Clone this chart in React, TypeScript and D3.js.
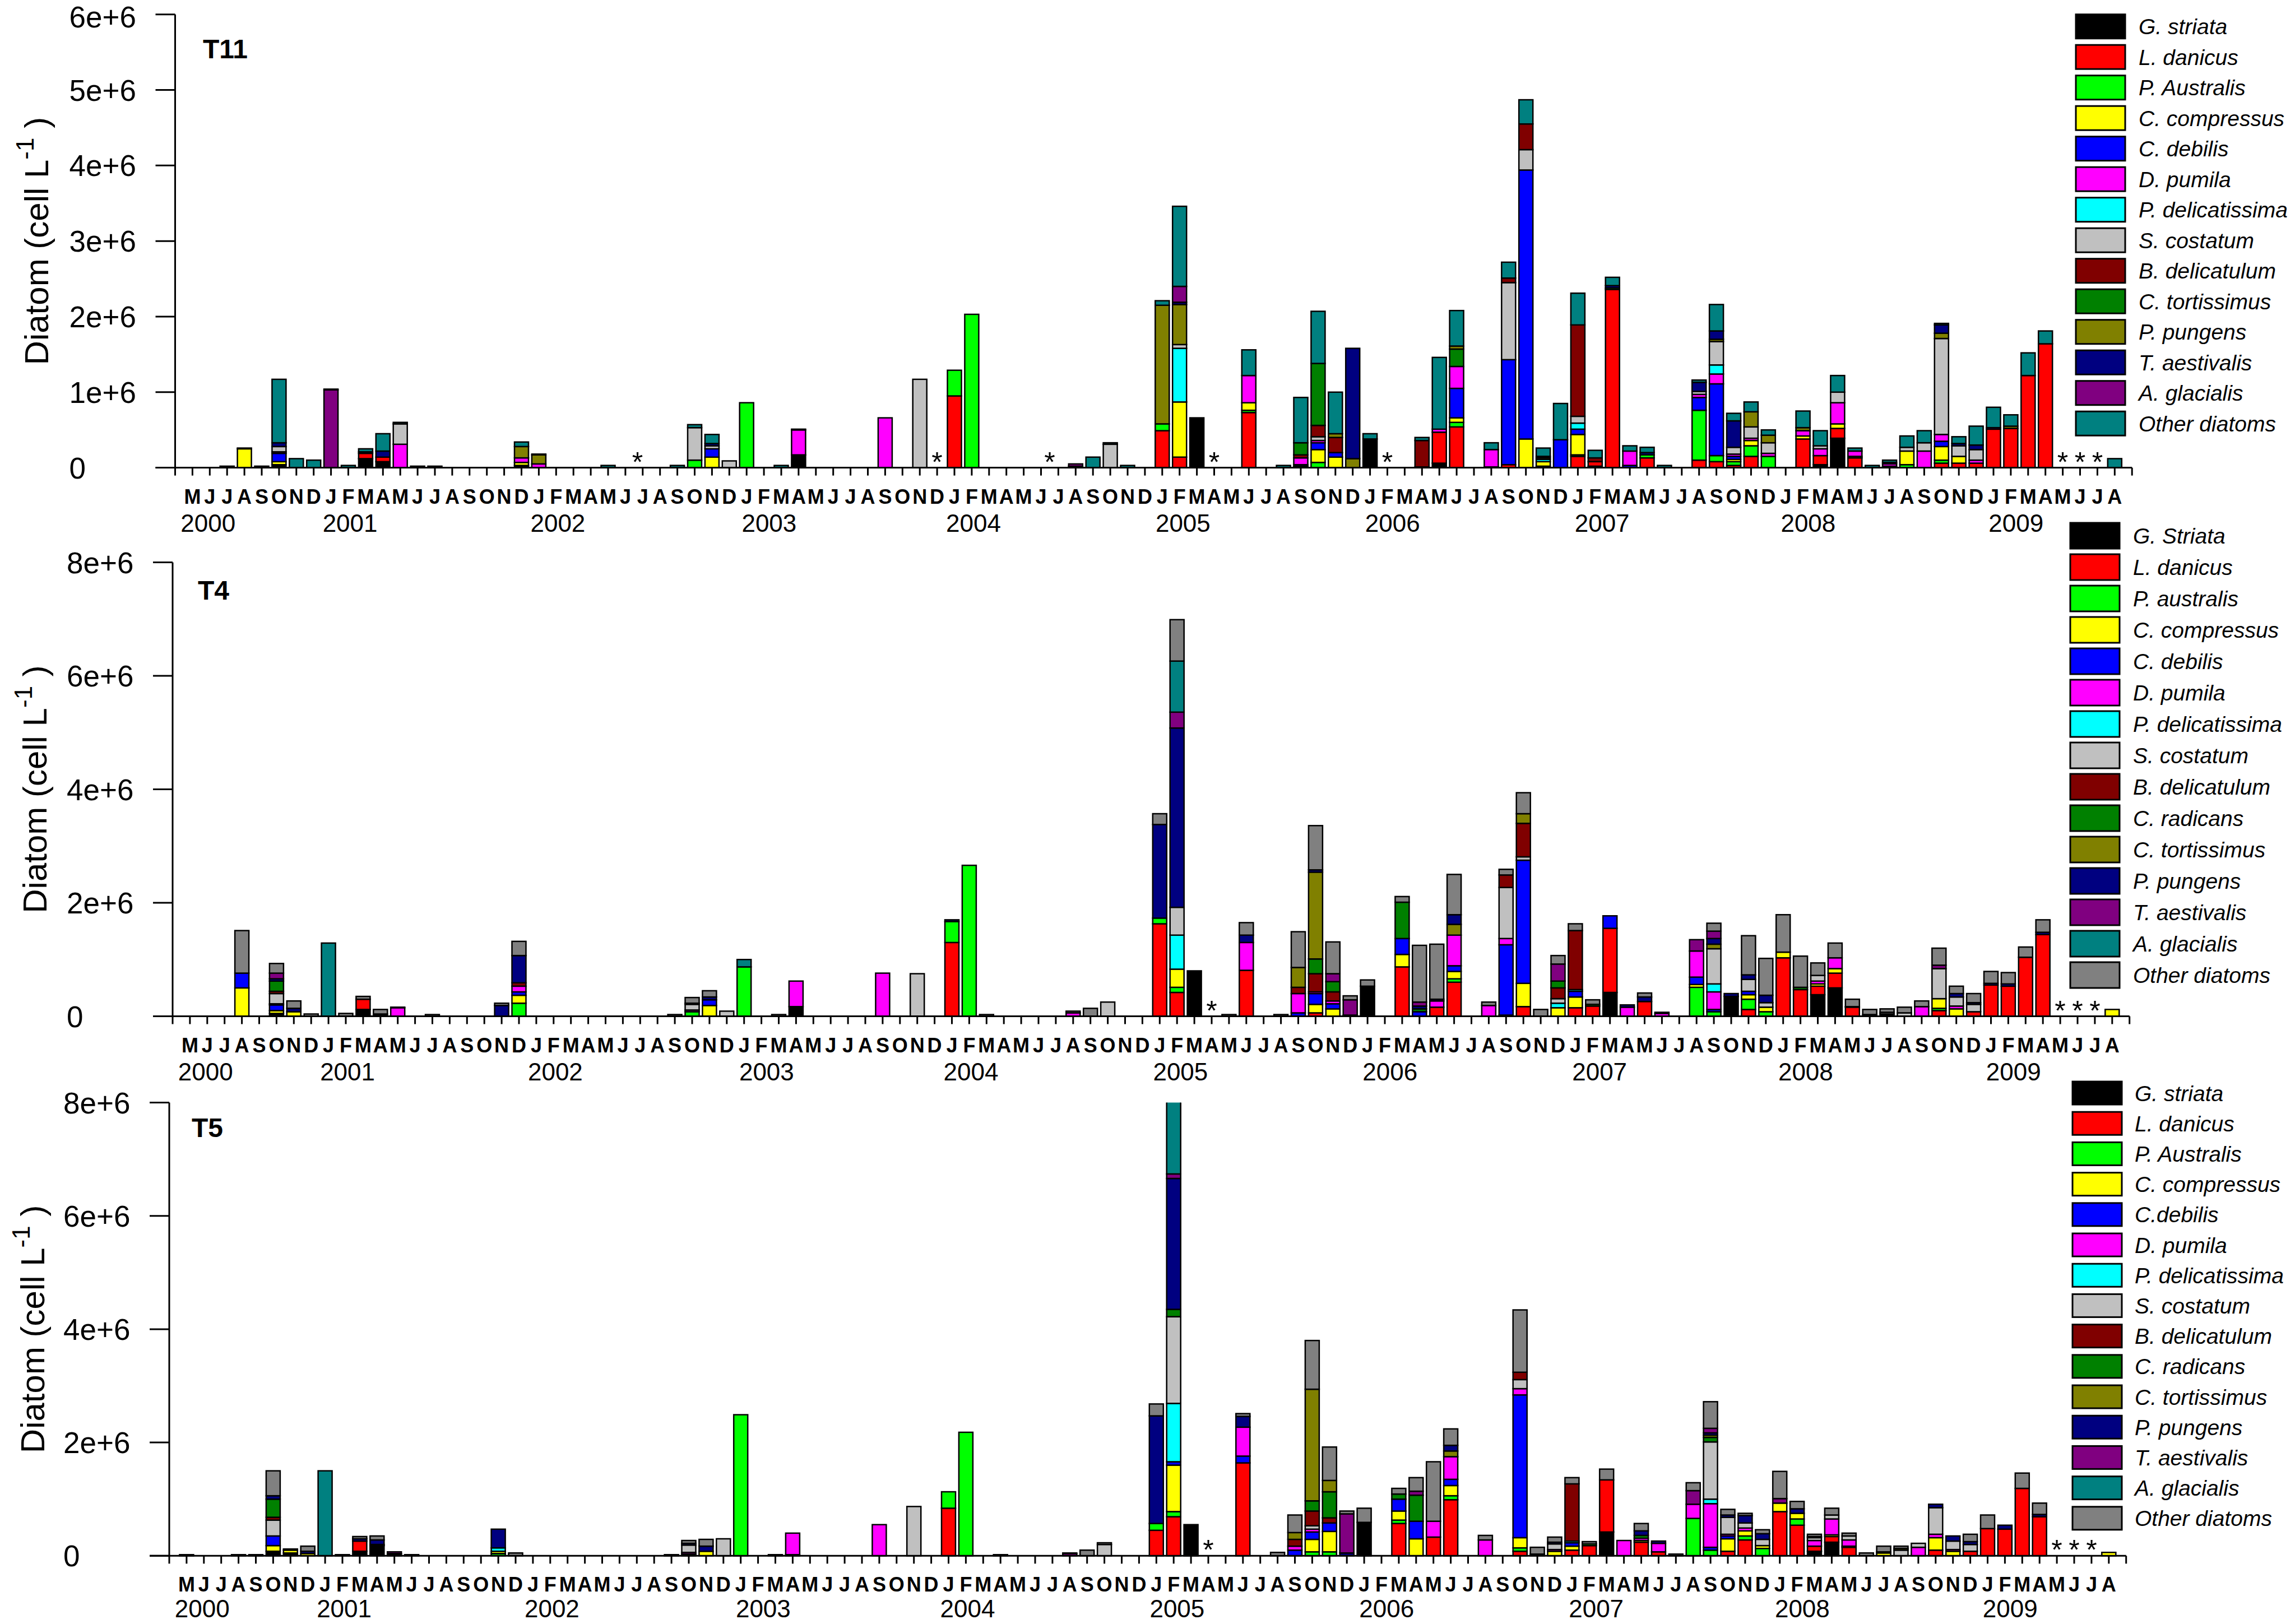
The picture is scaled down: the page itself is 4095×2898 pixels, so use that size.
import React from "react";
import * as d3 from "d3";

// months run from May 2000 (index 0) to Aug 2009 (index 111)
const monthInitials = ["J", "F", "M", "A", "M", "J", "J", "A", "S", "O", "N", "D"];
const firstMonth = 4;
const monthCount = 112;

const yearLabels = ["2000", "2001", "2002", "2003", "2004", "2005", "2006", "2007", "2008", "2009"];
const yearPositions = [0.9, 9.1, 21.1, 33.3, 45.1, 57.2, 69.3, 81.4, 93.3, 105.3];

const palette = [
  "#000000", "#ff0000", "#00ff00", "#ffff00", "#0000ff", "#ff00ff", "#00ffff", "#c0c0c0",
  "#800000", "#008000", "#808000", "#000080", "#800080", "#008080", "#808080",
];

const keysT11 = ["gs", "ld", "pa", "cc", "cd", "dp", "pd", "sc", "bd", "ct", "pp", "ta", "ag", "ot"];
const keysT4T5 = ["gs", "ld", "pa", "cc", "cd", "dp", "pd", "sc", "bd", "cr", "ct", "pp", "ta", "ag", "ot"];

const namesT11 = [
  "G. striata", "L. danicus", "P. Australis", "C. compressus", "C. debilis", "D. pumila",
  "P. delicatissima", "S. costatum", "B. delicatulum", "C. tortissimus", "P. pungens",
  "T. aestivalis", "A. glacialis", "Other diatoms",
];
const namesT4 = [
  "G. Striata", "L. danicus", "P. australis", "C. compressus", "C. debilis", "D. pumila",
  "P. delicatissima", "S. costatum", "B. delicatulum", "C. radicans", "C. tortissimus",
  "P. pungens", "T. aestivalis", "A. glacialis", "Other diatoms",
];
const namesT5 = [
  "G. striata", "L. danicus", "P. Australis", "C. compressus", "C.debilis", "D. pumila",
  "P. delicatissima", "S. costatum", "B. delicatulum", "C. radicans", "C. tortissimus",
  "P. pungens", "T. aestivalis", "A. glacialis", "Other diatoms",
];

type Sample = { m: number; [k: string]: number };

// values in 1e6 cell per litre
const samplesT11: Sample[] = [
  { m: 2, ot: 0.02 },
  { m: 3, cc: 0.25, ot: 0.01 },
  { m: 4, ot: 0.02 },
  { m: 5, gs: 0.04, cc: 0.04, cd: 0.11, dp: 0.02, sc: 0.07, ta: 0.05, ot: 0.84 },
  { m: 6, ot: 0.12 },
  { m: 7, ot: 0.1 },
  { m: 8, ag: 1.03, ot: 0.01 },
  { m: 9, ot: 0.03 },
  { m: 10, gs: 0.12, ld: 0.07, ta: 0.02, ot: 0.04 },
  { m: 11, gs: 0.08, ld: 0.06, ta: 0.08, ot: 0.23 },
  { m: 12, dp: 0.31, sc: 0.27, ot: 0.02 },
  { m: 13, ot: 0.02 },
  { m: 14, ot: 0.02 },
  { m: 19, gs: 0.03, cc: 0.04, dp: 0.06, pp: 0.15, ot: 0.06 },
  { m: 20, dp: 0.05, pp: 0.12, ot: 0.01 },
  { m: 24, ot: 0.03 },
  { m: 28, ot: 0.03 },
  { m: 29, pa: 0.1, sc: 0.43, ot: 0.04 },
  { m: 30, cc: 0.14, cd: 0.11, sc: 0.04, ta: 0.03, ot: 0.12 },
  { m: 31, sc: 0.09 },
  { m: 32, pa: 0.86 },
  { m: 34, ot: 0.03 },
  { m: 35, gs: 0.17, dp: 0.33, ot: 0.01 },
  { m: 40, dp: 0.66 },
  { m: 42, sc: 1.17 },
  { m: 44, ld: 0.95, pa: 0.34 },
  { m: 45, pa: 2.03 },
  { m: 51, dp: 0.02, ag: 0.03 },
  { m: 52, ot: 0.14 },
  { m: 53, sc: 0.31, ot: 0.02 },
  { m: 54, ot: 0.03 },
  { m: 56, ld: 0.49, pa: 0.09, pp: 1.57, ot: 0.06 },
  { m: 57, ld: 0.14, cc: 0.73, pd: 0.71, sc: 0.05, pp: 0.53, ta: 0.03, ag: 0.21, ot: 1.06 },
  { m: 58, gs: 0.66 },
  { m: 61, ld: 0.73, pa: 0.03, cc: 0.1, dp: 0.36, ot: 0.34 },
  { m: 63, ot: 0.03 },
  { m: 64, gs: 0.02, cd: 0.02, dp: 0.09, bd: 0.04, ct: 0.16, ot: 0.6 },
  { m: 65, pa: 0.07, cc: 0.17, cd: 0.09, dp: 0.03, sc: 0.05, bd: 0.15, ct: 0.82, ot: 0.69 },
  { m: 66, cc: 0.14, cd: 0.06, bd: 0.2, pp: 0.05, ot: 0.55 },
  { m: 67, pp: 0.12, ta: 1.46 },
  { m: 68, gs: 0.38, ot: 0.07 },
  { m: 71, gs: 0.01, bd: 0.35, ot: 0.04 },
  { m: 72, gs: 0.06, ld: 0.41, dp: 0.04, ot: 0.95 },
  { m: 73, ld: 0.54, pa: 0.06, cc: 0.06, cd: 0.39, dp: 0.29, ct: 0.23, pp: 0.04, ot: 0.47 },
  { m: 75, gs: 0.01, dp: 0.23, ot: 0.09 },
  { m: 76, ld: 0.04, cd: 1.39, sc: 1.02, bd: 0.06, ot: 0.21 },
  { m: 77, cc: 0.38, cd: 3.56, sc: 0.27, bd: 0.34, ot: 0.32 },
  { m: 78, pa: 0.02, cc: 0.06, pd: 0.03, pp: 0.02, ta: 0.02, ot: 0.11 },
  { m: 79, cd: 0.37, ot: 0.48 },
  { m: 80, ld: 0.15, pa: 0.02, cc: 0.27, cd: 0.07, pd: 0.08, sc: 0.09, bd: 1.21, ot: 0.42 },
  { m: 81, gs: 0.02, ld: 0.06, bd: 0.05, ot: 0.1 },
  { m: 82, ld: 2.36, pa: 0.02, ta: 0.03, ot: 0.11 },
  { m: 83, cd: 0.03, dp: 0.19, ot: 0.07 },
  { m: 84, ld: 0.13, pa: 0.04, ta: 0.03, ot: 0.07 },
  { m: 85, ot: 0.03 },
  { m: 87, ld: 0.1, pa: 0.66, cd: 0.17, dp: 0.04, sc: 0.04, ta: 0.12, ot: 0.03 },
  { m: 88, ld: 0.08, pa: 0.08, cd: 0.95, dp: 0.13, pd: 0.12, sc: 0.31, pp: 0.03, ta: 0.11, ot: 0.35 },
  { m: 89, ld: 0.03, pa: 0.05, cc: 0.03, cd: 0.04, dp: 0.03, sc: 0.09, ta: 0.35, ot: 0.1 },
  { m: 90, ld: 0.15, pa: 0.14, cc: 0.07, dp: 0.03, sc: 0.15, pp: 0.2, ot: 0.13 },
  { m: 91, pa: 0.15, dp: 0.04, sc: 0.14, pp: 0.1, ot: 0.07 },
  { m: 93, ld: 0.38, cc: 0.04, dp: 0.07, pp: 0.04, ot: 0.22 },
  { m: 94, gs: 0.04, ld: 0.12, dp: 0.09, sc: 0.04, ot: 0.2 },
  { m: 95, gs: 0.39, ld: 0.13, cc: 0.06, dp: 0.28, sc: 0.14, ot: 0.22 },
  { m: 96, ld: 0.13, cc: 0.02, dp: 0.07, ot: 0.04 },
  { m: 97, ot: 0.03 },
  { m: 98, cc: 0.02, dp: 0.03, ta: 0.02, ot: 0.03 },
  { m: 99, pa: 0.04, cc: 0.18, sc: 0.05, ot: 0.15 },
  { m: 100, dp: 0.22, sc: 0.11, ot: 0.16 },
  { m: 101, ld: 0.06, pa: 0.04, cc: 0.18, cd: 0.07, dp: 0.09, sc: 1.27, pp: 0.07, ta: 0.11, ot: 0.02 },
  { m: 102, ld: 0.06, cc: 0.09, sc: 0.14, ta: 0.03, ot: 0.09 },
  { m: 103, ld: 0.06, dp: 0.04, sc: 0.14, ta: 0.06, ot: 0.25 },
  { m: 104, ld: 0.51, dp: 0.02, ot: 0.27 },
  { m: 105, ld: 0.52, pp: 0.03, ot: 0.15 },
  { m: 106, ld: 1.22, ot: 0.3 },
  { m: 107, ld: 1.64, ot: 0.17 },
  { m: 111, ot: 0.12 },
];

const samplesT4: Sample[] = [
  { m: 3, cc: 0.5, cd: 0.26, ot: 0.75 },
  { m: 5, gs: 0.05, cc: 0.05, cd: 0.1, dp: 0.02, sc: 0.18, bd: 0.04, cr: 0.18, pp: 0.04, ta: 0.1, ot: 0.17 },
  { m: 6, cc: 0.08, pp: 0.06, ot: 0.13 },
  { m: 7, ot: 0.04 },
  { m: 8, ag: 1.29 },
  { m: 9, ot: 0.05 },
  { m: 10, gs: 0.12, ld: 0.18, ot: 0.05 },
  { m: 11, gs: 0.04, ot: 0.08 },
  { m: 12, dp: 0.15, ot: 0.01 },
  { m: 14, ot: 0.03 },
  { m: 18, pp: 0.19, ot: 0.04 },
  { m: 19, pa: 0.23, cc: 0.14, cd: 0.06, dp: 0.1, bd: 0.06, pp: 0.48, ot: 0.25 },
  { m: 28, ot: 0.03 },
  { m: 29, pa: 0.08, dp: 0.03, sc: 0.1, pp: 0.02, ot: 0.1 },
  { m: 30, cc: 0.19, cd: 0.1, pp: 0.05, ot: 0.11 },
  { m: 31, sc: 0.09 },
  { m: 32, pa: 0.87, ag: 0.13 },
  { m: 34, ot: 0.03 },
  { m: 35, gs: 0.17, dp: 0.45 },
  { m: 40, dp: 0.76 },
  { m: 42, sc: 0.75 },
  { m: 44, ld: 1.3, pa: 0.37, pp: 0.03 },
  { m: 45, pa: 2.66 },
  { m: 46, ot: 0.03 },
  { m: 51, dp: 0.06, ot: 0.03 },
  { m: 52, ot: 0.14 },
  { m: 53, sc: 0.25 },
  { m: 56, ld: 1.63, pa: 0.1, pp: 1.65, ot: 0.19 },
  { m: 57, ld: 0.42, pa: 0.09, cc: 0.32, pd: 0.6, sc: 0.49, pp: 3.16, ta: 0.28, ag: 0.9, ot: 0.73 },
  { m: 58, gs: 0.8 },
  { m: 60, ot: 0.03 },
  { m: 61, ld: 0.81, dp: 0.49, pp: 0.13, ot: 0.22 },
  { m: 63, ot: 0.03 },
  { m: 64, cd: 0.06, dp: 0.34, bd: 0.11, ct: 0.35, ot: 0.63 },
  { m: 65, ld: 0.06, cc: 0.15, cd: 0.19, dp: 0.03, bd: 0.32, cr: 0.26, ct: 1.53, pp: 0.04, ot: 0.78 },
  { m: 66, cc: 0.13, cd: 0.09, dp: 0.05, bd: 0.16, cr: 0.18, ta: 0.14, ot: 0.56 },
  { m: 67, pp: 0.02, ta: 0.27, ot: 0.07 },
  { m: 68, gs: 0.53, ot: 0.11 },
  { m: 70, ld: 0.87, cc: 0.22, cd: 0.28, cr: 0.64, ot: 0.1 },
  { m: 71, cd: 0.08, cr: 0.05, pp: 0.05, ta: 0.07, ot: 1.0 },
  { m: 72, ld: 0.16, dp: 0.11, pp: 0.03, ot: 0.97 },
  { m: 73, ld: 0.6, pa: 0.06, cc: 0.13, cd: 0.1, dp: 0.54, ct: 0.19, pp: 0.17, ot: 0.71 },
  { m: 75, dp: 0.19, ot: 0.06 },
  { m: 76, ld: 0.02, cd: 1.24, dp: 0.11, sc: 0.9, bd: 0.22, ot: 0.1 },
  { m: 77, ld: 0.17, cc: 0.41, cd: 2.17, sc: 0.06, bd: 0.59, ct: 0.17, ot: 0.37 },
  { m: 78, ot: 0.12 },
  { m: 79, cc: 0.15, pd: 0.08, sc: 0.08, bd: 0.19, cr: 0.12, ta: 0.3, ot: 0.15 },
  { m: 80, ld: 0.15, cc: 0.19, cd: 0.1, pd: 0.03, bd: 1.04, ot: 0.12 },
  { m: 81, ld: 0.18, pa: 0.03, ot: 0.08 },
  { m: 82, gs: 0.42, ld: 1.13, cd: 0.22 },
  { m: 83, dp: 0.16, pp: 0.04 },
  { m: 84, ld: 0.26, pp: 0.08, ot: 0.07 },
  { m: 85, dp: 0.05, ot: 0.02 },
  { m: 87, pa: 0.51, cc: 0.05, cd: 0.13, dp: 0.46, ta: 0.2 },
  { m: 88, pa: 0.08, cd: 0.04, dp: 0.31, pd: 0.14, sc: 0.62, ct: 0.08, pp: 0.1, ta: 0.13, ot: 0.14 },
  { m: 89, gs: 0.35, pp: 0.05 },
  { m: 90, ld: 0.12, pa: 0.18, cc: 0.08, cd: 0.06, sc: 0.21, pp: 0.08, ot: 0.69 },
  { m: 91, pa: 0.08, cc: 0.08, sc: 0.08, pp: 0.13, ot: 0.65 },
  { m: 92, ld: 1.03, cc: 0.1, ot: 0.66 },
  { m: 93, ld: 0.47, cr: 0.04, ot: 0.55 },
  { m: 94, gs: 0.38, ld: 0.15, cc: 0.04, dp: 0.05, sc: 0.1, ot: 0.22 },
  { m: 95, gs: 0.5, ld: 0.26, cc: 0.08, dp: 0.19, ot: 0.26 },
  { m: 96, ld: 0.16, cc: 0.01, ot: 0.13 },
  { m: 97, gs: 0.03, ot: 0.09 },
  { m: 98, gs: 0.04, sc: 0.03, ot: 0.06 },
  { m: 99, sc: 0.06, ot: 0.1 },
  { m: 100, dp: 0.17, ot: 0.1 },
  { m: 101, ld: 0.1, pa: 0.04, cc: 0.17, sc: 0.53, ta: 0.06, ot: 0.3 },
  { m: 102, cc: 0.13, dp: 0.05, sc: 0.16, pp: 0.06, ot: 0.13 },
  { m: 103, ld: 0.08, sc: 0.13, pp: 0.03, ot: 0.16 },
  { m: 104, ld: 0.55, pp: 0.03, ot: 0.21 },
  { m: 105, ld: 0.53, pp: 0.04, ot: 0.2 },
  { m: 106, ld: 1.04, ot: 0.18 },
  { m: 107, ld: 1.44, pp: 0.04, ot: 0.22 },
  { m: 111, cc: 0.12 },
];

const samplesT5: Sample[] = [
  { m: 0, ot: 0.02 },
  { m: 3, ot: 0.02 },
  { m: 4, ot: 0.02 },
  { m: 5, gs: 0.08, cc: 0.1, cd: 0.17, sc: 0.28, bd: 0.05, cr: 0.32, pp: 0.06, ot: 0.44 },
  { m: 6, gs: 0.05, cc: 0.05, ot: 0.02 },
  { m: 7, cc: 0.04, pp: 0.04, ot: 0.09 },
  { m: 8, ag: 1.5 },
  { m: 9, ot: 0.02 },
  { m: 10, gs: 0.08, ld: 0.18, pp: 0.04, ot: 0.04 },
  { m: 11, gs: 0.18, ld: 0.02, pp: 0.08, ot: 0.07 },
  { m: 12, gs: 0.04, ta: 0.03 },
  { m: 13, ot: 0.02 },
  { m: 18, pa: 0.04, cc: 0.04, pd: 0.06, pp: 0.33 },
  { m: 19, ot: 0.05 },
  { m: 28, ot: 0.02 },
  { m: 29, gs: 0.03, dp: 0.03, sc: 0.13, pp: 0.03, ot: 0.05 },
  { m: 30, cc: 0.08, pp: 0.09, ot: 0.12 },
  { m: 31, sc: 0.3 },
  { m: 32, pa: 2.49 },
  { m: 34, ot: 0.02 },
  { m: 35, gs: 0.02, dp: 0.38 },
  { m: 40, dp: 0.55 },
  { m: 42, sc: 0.87 },
  { m: 44, ld: 0.84, pa: 0.29 },
  { m: 45, pa: 2.18 },
  { m: 47, ot: 0.02 },
  { m: 51, ta: 0.04, ot: 0.01 },
  { m: 52, ot: 0.1 },
  { m: 53, sc: 0.2, ot: 0.03 },
  { m: 56, ld: 0.45, pa: 0.12, pp: 1.9, ot: 0.21 },
  { m: 57, ld: 0.69, pa: 0.09, cc: 0.82, cd: 0.06, pd: 1.03, sc: 1.53, cr: 0.13, pp: 2.31, ta: 0.08, ag: 1.5 },
  { m: 58, gs: 0.55 },
  { m: 61, ld: 1.64, cd: 0.12, dp: 0.51, pp: 0.19, ot: 0.05 },
  { m: 63, ot: 0.06 },
  { m: 64, cd: 0.1, dp: 0.07, bd: 0.12, ct: 0.12, ot: 0.31 },
  { m: 65, pa: 0.07, cc: 0.22, cd: 0.13, dp: 0.05, sc: 0.06, bd: 0.26, cr: 0.18, ct: 1.97, ot: 0.86 },
  { m: 66, pa: 0.07, cc: 0.36, cd: 0.15, bd: 0.09, cr: 0.46, ct: 0.2, ot: 0.59 },
  { m: 67, pp: 0.05, ta: 0.69, ot: 0.05 },
  { m: 68, gs: 0.59, ot: 0.25 },
  { m: 70, ld: 0.57, pa: 0.06, cc: 0.16, cd: 0.21, cr: 0.09, ot: 0.1 },
  { m: 71, cc: 0.3, cd: 0.31, cr: 0.46, ta: 0.07, ot: 0.24 },
  { m: 72, ld: 0.33, dp: 0.28, ot: 1.05 },
  { m: 73, ld: 0.99, pa: 0.07, cc: 0.18, cd: 0.11, dp: 0.4, ct: 0.1, pp: 0.1, ot: 0.29 },
  { m: 75, dp: 0.28, ot: 0.08 },
  { m: 77, ld: 0.08, pa: 0.06, cc: 0.18, cd: 2.52, dp: 0.11, sc: 0.16, bd: 0.13, ot: 1.1 },
  { m: 78, gs: 0.03, ot: 0.12 },
  { m: 79, cc: 0.08, dp: 0.03, sc: 0.1, pp: 0.03, ot: 0.09 },
  { m: 80, ld: 0.1, cc: 0.07, cd: 0.06, pd: 0.03, bd: 1.01, ot: 0.11 },
  { m: 81, ld: 0.18, pa: 0.03, ot: 0.04 },
  { m: 82, gs: 0.42, ld: 0.92, ot: 0.19 },
  { m: 83, dp: 0.27 },
  { m: 84, ld: 0.24, cc: 0.03, dp: 0.04, cr: 0.05, pp: 0.08, ot: 0.13 },
  { m: 85, ld: 0.07, dp: 0.15, pp: 0.04 },
  { m: 86, ot: 0.03 },
  { m: 87, pa: 0.66, dp: 0.25, ta: 0.24, ot: 0.14 },
  { m: 88, pa: 0.1, cd: 0.05, dp: 0.77, pd: 0.08, sc: 1.01, cr: 0.08, ct: 0.04, pp: 0.04, ta: 0.08, ot: 0.47 },
  { m: 89, ld: 0.08, cc: 0.22, cd: 0.05, dp: 0.03, sc: 0.3, pp: 0.04, ot: 0.1 },
  { m: 90, ld: 0.28, pa: 0.07, cc: 0.09, dp: 0.05, sc: 0.09, pp: 0.13, ot: 0.04 },
  { m: 91, pa: 0.13, cc: 0.05, sc: 0.11, pp: 0.1, ot: 0.07 },
  { m: 92, ld: 0.78, cc: 0.15, ta: 0.08, ot: 0.48 },
  { m: 93, ld: 0.54, pa: 0.11, cc: 0.1, pp: 0.08, ot: 0.13 },
  { m: 94, gs: 0.08, ld: 0.09, dp: 0.1, sc: 0.05, cr: 0.02, ot: 0.04 },
  { m: 95, gs: 0.24, ld: 0.1, cc: 0.03, dp: 0.28, sc: 0.07, ot: 0.12 },
  { m: 96, ld: 0.15, cc: 0.02, dp: 0.11, sc: 0.07, ot: 0.05 },
  { m: 97, ot: 0.05 },
  { m: 98, cc: 0.05, dp: 0.02, ot: 0.1 },
  { m: 99, sc: 0.1, ct: 0.03, ot: 0.04 },
  { m: 100, dp: 0.15, sc: 0.07 },
  { m: 101, ld: 0.1, cc: 0.22, dp: 0.06, sc: 0.47, pp: 0.06 },
  { m: 102, cc: 0.08, dp: 0.03, sc: 0.15, pp: 0.09 },
  { m: 103, ld: 0.08, sc: 0.12, pp: 0.05, ot: 0.13 },
  { m: 104, ld: 0.48, ot: 0.24 },
  { m: 105, ld: 0.47, pp: 0.07 },
  { m: 106, ld: 1.19, ot: 0.27 },
  { m: 107, ld: 0.69, pp: 0.04, ot: 0.2 },
  { m: 111, cc: 0.06 },
];

// months with no sampling, marked by an asterisk
const missingT11 = [25.7, 43, 49.5, 59, 69, 108, 109, 110];
const missingT4 = [59, 108, 109, 110];
const missingT5 = [59, 108, 109, 110];

const FONT = "'Liberation Sans', Arial, Helvetica, sans-serif";
const monthStep = 30.9;
const barW = 25;
const tickFont = 53;

interface PanelCfg {
  id: string;
  samples: Sample[];
  keys: string[];
  names: string[];
  missing: number[];
  yMax: number;
  yStep: number;
  axisX: number;
  zeroY: number;
  topY: number;
  titleX: number;
  titleY: number;
  labelX: number;
  yearDy: number;
  legend: { x: number; y: number; step: number; h: number; textX: number };
}

const panels: PanelCfg[] = [
  {
    id: "T11", samples: samplesT11, keys: keysT11, names: namesT11, missing: missingT11,
    yMax: 6, yStep: 1, axisX: 312.5, zeroY: 834.6, topY: 25.7, titleX: 362, titleY: 104, labelX: 86,
    yearDy: 114,
    legend: { x: 3704, y: 25.7, step: 54.5, h: 43, textX: 3816 },
  },
  {
    id: "T4", samples: samplesT4, keys: keysT4T5, names: namesT4, missing: missingT4,
    yMax: 8, yStep: 2, axisX: 308, zeroY: 1813.5, topY: 1003.5, titleX: 353, titleY: 1070, labelX: 83,
    yearDy: 114,
    legend: { x: 3694, y: 933, step: 56, h: 46, textX: 3806 },
  },
  {
    id: "T5", samples: samplesT5, keys: keysT4T5, names: namesT5, missing: missingT5,
    yMax: 8, yStep: 2, axisX: 302, zeroY: 2776.3, topY: 1967.5, titleX: 342, titleY: 2029, labelX: 79,
    yearDy: 110,
    legend: { x: 3698, y: 1930, step: 54.2, h: 41, textX: 3809 },
  },
];

function buildRows(samples: Sample[], keys: string[]) {
  const rows = d3.range(monthCount).map((m) => {
    const row: Record<string, number> = { m };
    keys.forEach((k) => (row[k] = 0));
    return row;
  });
  samples.forEach((s) => {
    Object.keys(s).forEach((k) => {
      if (k !== "m") rows[s.m][k] = s[k];
    });
  });
  return rows;
}

const Panel = ({ cfg }: { cfg: PanelCfg }) => {
  const x = d3
    .scaleLinear()
    .domain([-1, monthCount])
    .range([cfg.axisX, cfg.axisX + monthStep * (monthCount + 1)]);
  const y = d3.scaleLinear().domain([0, cfg.yMax]).range([cfg.zeroY, cfg.topY]);
  const rows = buildRows(cfg.samples, cfg.keys);
  const series = d3.stack<Record<string, number>>().keys(cfg.keys)(rows);
  const yTicks = d3.range(0, cfg.yMax + 1e-9, cfg.yStep);
  const xTicks = d3.range(-1, monthCount + 1);
  const midY = (cfg.zeroY + cfg.topY) / 2;
  const endX = x(monthCount);
  const clipId = `clip-${cfg.id}`;

  return (
    <g>
      <clipPath id={clipId}>
        <rect x={cfg.axisX} y={cfg.topY} width={endX - cfg.axisX} height={cfg.zeroY - cfg.topY + 2} />
      </clipPath>

      <g clipPath={`url(#${clipId})`}>
        {series.map((s, k) =>
          s.map((d, i) =>
            d[1] - d[0] > 0 ? (
              <rect
                key={`${k}-${i}`}
                x={x(d.data.m) - barW / 2}
                y={y(d[1])}
                width={barW}
                height={y(d[0]) - y(d[1])}
                fill={palette[k]}
                stroke="#000"
                strokeWidth={2.5}
              />
            ) : null
          )
        )}
      </g>

      {/* axes */}
      <line x1={cfg.axisX} x2={cfg.axisX} y1={cfg.zeroY} y2={cfg.topY} stroke="#000" strokeWidth={3} />
      <line x1={cfg.axisX - 35} x2={endX} y1={cfg.zeroY} y2={cfg.zeroY} stroke="#000" strokeWidth={3} />

      {yTicks.map((v) => (
        <g key={v}>
          <line x1={cfg.axisX - 35} x2={cfg.axisX} y1={y(v)} y2={y(v)} stroke="#000" strokeWidth={3} />
          <text
            x={cfg.axisX - 189}
            y={Math.max(y(v) + 0.36 * tickFont, 49)}
            fontSize={tickFont}
            fontFamily={FONT}
          >
            {v === 0 ? "0" : `${v}e+6`}
          </text>
        </g>
      ))}

      {xTicks.map((t) => (
        <line key={t} x1={x(t)} x2={x(t)} y1={cfg.zeroY} y2={cfg.zeroY + 14} stroke="#000" strokeWidth={3} />
      ))}

      {d3.range(monthCount).map((i) => (
        <text
          key={i}
          x={x(i)}
          y={cfg.zeroY + 64}
          textAnchor="middle"
          fontSize={36}
          fontWeight="bold"
          fontFamily={FONT}
        >
          {monthInitials[(firstMonth + i) % 12]}
        </text>
      ))}

      {yearLabels.map((yr, j) => (
        <text
          key={yr}
          x={x(yearPositions[j])}
          y={cfg.zeroY + cfg.yearDy}
          textAnchor="middle"
          fontSize={44}
          fontFamily={FONT}
        >
          {yr}
        </text>
      ))}

      {cfg.missing.map((m) => (
        <text key={m} x={x(m)} y={cfg.zeroY + 7} textAnchor="middle" fontSize={50} fontFamily={FONT}>
          *
        </text>
      ))}

      <text x={cfg.titleX} y={cfg.titleY} fontSize={48} fontWeight="bold" fontFamily={FONT}>
        {cfg.id}
      </text>

      <text
        transform={`translate(${cfg.labelX},${midY}) rotate(-90)`}
        textAnchor="middle"
        fontSize={60}
        fontFamily={FONT}
      >
        Diatom (cell L
        <tspan dy={-26} fontSize={44}>
          -1
        </tspan>
        <tspan dy={26}> )</tspan>
      </text>

      {cfg.names.map((name, k) => {
        const top = cfg.legend.y + k * cfg.legend.step;
        return (
          <g key={name}>
            <rect
              x={cfg.legend.x}
              y={top}
              width={88}
              height={cfg.legend.h}
              fill={palette[k]}
              stroke="#000"
              strokeWidth={3}
            />
            <text
              x={cfg.legend.textX}
              y={top + cfg.legend.h / 2 + 14}
              fontSize={39}
              fontStyle="italic"
              fontFamily={FONT}
            >
              {name}
            </text>
          </g>
        );
      })}
    </g>
  );
};

export default function App() {
  return (
    <svg
      width={4095}
      height={2898}
      viewBox="0 0 4095 2898"
      style={{ position: "absolute", left: 0, top: 0, background: "#fff" }}
    >
      <rect width={4095} height={2898} fill="#fff" />
      {panels.map((p) => (
        <Panel key={p.id} cfg={p} />
      ))}
    </svg>
  );
}
